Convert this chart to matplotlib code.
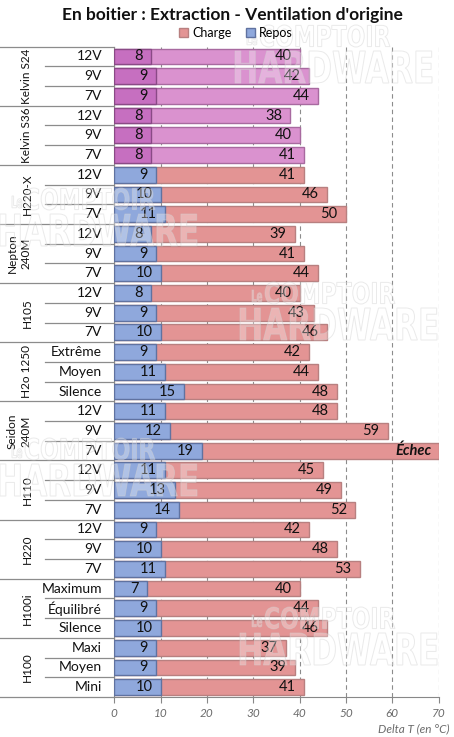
import numpy as np
import matplotlib.pyplot as plt
from matplotlib.patches import Patch, PathPatch
from matplotlib.textpath import TextPath
from matplotlib.font_manager import FontProperties
from matplotlib.transforms import Affine2D, blended_transform_factory

plt.rcParams['font.family'] = ['Lato', 'DejaVu Sans']

groups = ['Kelvin S24', 'Kelvin S36', 'H220-X', 'Nepton\n240M', 'H105',
          'H2o 1250', 'Seidon\n240M', 'H110', 'H220', 'H100i', 'H100']
sub_labels = [
    ['12V', '9V', '7V'], ['12V', '9V', '7V'], ['12V', '9V', '7V'],
    ['12V', '9V', '7V'], ['12V', '9V', '7V'],
    ['Extrême', 'Moyen', 'Silence'],
    ['12V', '9V', '7V'], ['12V', '9V', '7V'], ['12V', '9V', '7V'],
    ['Maximum', 'Équilibré', 'Silence'],
    ['Maxi', 'Moyen', 'Mini'],
]
repos = [8, 9, 9, 8, 8, 8, 9, 10, 11, 8, 9, 10, 8, 9, 10, 9, 11, 15,
         11, 12, 19, 11, 13, 14, 9, 10, 11, 7, 9, 10, 9, 9, 10]
charge = [40, 42, 44, 38, 40, 41, 41, 46, 50, 39, 41, 44, 40, 43, 46, 42, 44, 48,
          48, 59, None, 45, 49, 52, 42, 48, 53, 40, 44, 46, 37, 39, 41]
fail_label = 'Échec'
highlight_groups = ['Kelvin S24', 'Kelvin S36']

W, H = 454, 737
fig = plt.figure(figsize=(W / 100, H / 100), dpi=100)
ax = fig.add_axes([114.3 / W, 1 - 697 / H, (438.7 - 114.3) / W, (697 - 46.6) / H])

xmax = 70
n = len(repos)
y = np.arange(n)
hl_rows = set()
for gi, g in enumerate(groups):
    if g in highlight_groups:
        hl_rows.update(range(gi * 3, gi * 3 + 3))

c_charge, c_repos = '#e39494', '#8fa8dc'
c_charge_hl, c_repos_hl = '#da92cf', '#c66fc0'

ch_vals = [xmax if v is None else v for v in charge]
ch_col = [c_charge_hl if i in hl_rows else c_charge for i in range(n)]
re_col = [c_repos_hl if i in hl_rows else c_repos for i in range(n)]
ch_edge = ['#a86aa0' if i in hl_rows else '#b88080' for i in range(n)]
re_edge = ['#8a4a86' if i in hl_rows else '#6072a0' for i in range(n)]

ax.barh(y, ch_vals, height=0.8, color=ch_col, edgecolor=ch_edge, linewidth=1, zorder=2)
ax.barh(y, repos, height=0.8, color=re_col, edgecolor=re_edge, linewidth=1, zorder=3)

for i in range(n):
    ax.annotate(str(repos[i]), (repos[i], i), xytext=(-6, 0), textcoords='offset points',
                ha='right', va='center', fontsize=10.5, color='#111111', zorder=4)
    if charge[i] is None:
        ax.annotate(fail_label, (xmax, i), xytext=(-5, 0), textcoords='offset points',
                    ha='right', va='center', fontsize=10.5, fontweight='bold',
                    fontstyle='italic', color='#111111', zorder=4)
    else:
        ax.annotate(str(charge[i]), (charge[i], i), xytext=(-6, 0), textcoords='offset points',
                    ha='right', va='center', fontsize=10.5, color='#111111', zorder=4)

ax.set_xlim(0, xmax)
ax.set_ylim(n - 0.5, -0.5)
ax.set_yticks([])
ax.set_xticks(range(0, xmax + 1, 10))
ax.set_xticklabels([str(v) for v in range(0, xmax + 1, 10)], fontstyle='italic',
                   color='#6b6b6b', fontsize=8.5)
ax.tick_params(axis='x', length=4, color='#888888', pad=4)
for v in range(10, xmax + 1, 10):
    ax.axvline(v, color='#8c8c8c', linestyle=(0, (4, 3)), linewidth=0.8, zorder=1)
for s in ['top', 'right']:
    ax.spines[s].set_visible(False)
ax.spines['left'].set_color('#888888')
ax.spines['bottom'].set_color('#888888')

# left label area
tr = blended_transform_factory(fig.transFigure, ax.transData)
x_axis = 114.3 / W
for gi in range(len(groups) + 1):
    ax.plot([0, x_axis], [gi * 3 - 0.5] * 2, color='#8c8c8c', lw=0.9,
            transform=tr, clip_on=False)
for gi in range(len(groups)):
    for k in (1, 2):
        ax.plot([45 / W, x_axis], [gi * 3 + k - 0.5] * 2, color='#8c8c8c', lw=0.9,
                transform=tr, clip_on=False)
    for k, lab in enumerate(sub_labels[gi]):
        ax.text(102 / W, gi * 3 + k, lab, transform=tr, ha='right', va='center',
                fontsize=10, color='#111111')
    gx = 19 if '\n' in groups[gi] else 27
    ax.text(gx / W, gi * 3 + 1, groups[gi], transform=tr, ha='center', va='center',
            rotation=90, fontsize=8.5, color='#111111', linespacing=1.35)

fig.text(232 / W, 1 - 15 / H, "En boitier : Extraction - Ventilation d'origine",
         ha='center', va='center', fontsize=12.5, fontweight='bold', color='#111111')
handles = [Patch(facecolor=c_charge, edgecolor='#b88080', label='Charge'),
           Patch(facecolor=c_repos, edgecolor='#6072a0', label='Repos')]
fig.legend(handles=handles, loc='center', bbox_to_anchor=(236 / W, 1 - 33 / H), ncol=2,
           frameon=False, fontsize=9, handlelength=0.7, handleheight=0.7,
           handletextpad=0.3, columnspacing=1.2, borderpad=0)
fig.text(450 / W, 1 - 729 / H, 'Delta T (en °C)', ha='right', va='center',
         fontsize=8.5, fontstyle='italic', color='#6b6b6b')


# faint "Le COMPTOIR HARDWARE" watermarks, boxes in pixels (x, top, width, height)
def watermark(text, x, top, width, height):
    tp = TextPath((0, 0), text, size=10,
                  prop=FontProperties(family='DejaVu Sans', weight='bold'))
    bb = tp.get_extents()
    t = (Affine2D().translate(-bb.x0, -bb.y0)
         .scale(width / bb.width, height / bb.height)
         .translate(x, H - top - height).scale(1 / W, 1 / H) + fig.transFigure)
    fig.add_artist(PathPatch(tp, transform=t, facecolor=(1, 1, 1, 0.3),
                             edgecolor=(0.82, 0.82, 0.82, 0.45), lw=0.7, zorder=5))


for wx, wy in [(235, 25), (0, 188), (240, 282), (0, 438), (240, 607)]:
    watermark('Le', wx + 12, wy + 8, 10, 12)
    watermark('COMPTOIR', wx + 25, wy, 130, 22)
    watermark('HARDWARE', wx, wy + 26, 197, 32)

fig.savefig('out.png', dpi=100)
